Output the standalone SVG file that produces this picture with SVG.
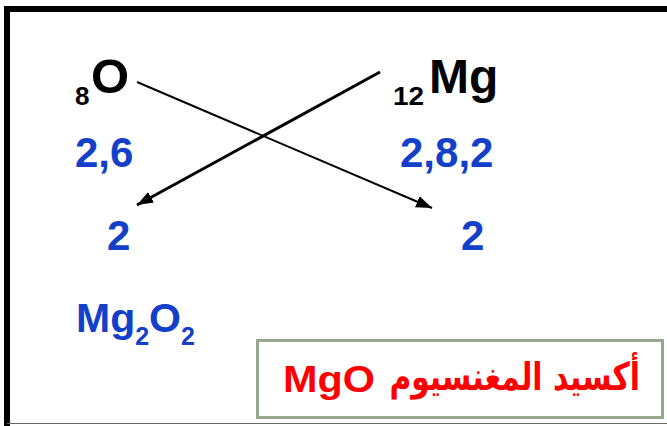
<svg xmlns="http://www.w3.org/2000/svg" width="667" height="426" viewBox="0 0 667 426">
<style>
.blk{font-family:"Liberation Sans",Arial,sans-serif;font-weight:bold;fill:#000}
.blu{font-family:"Liberation Sans",Arial,sans-serif;font-weight:bold;fill:#1240C8}
.red{font-weight:bold;fill:#FF0000}
.con{stroke:#000;fill:none}
</style>
<defs>
<marker id="ah" markerUnits="userSpaceOnUse" markerWidth="18" markerHeight="14" refX="16" refY="6" orient="auto">
<path d="M0,0 L16,6 L0,12 z" fill="#000"/>
</marker>
</defs>
<rect width="667" height="426" fill="#fff"/>
<g id="frame">
<path d="M7,426 L7,9 L667,9" fill="none" stroke="#000" stroke-width="6"/>
<line x1="7" y1="423.5" x2="667" y2="423.5" stroke="#666" stroke-width="1.2"/>
</g>
<g id="connectors">
<line class="con" x1="137" y1="82" x2="432" y2="208" stroke-width="2" marker-end="url(#ah)"/>
<line class="con" x1="380" y1="72" x2="137" y2="205" stroke-width="3" marker-end="url(#ah)"/>
</g>
<g id="oxygen">
<text class="blk" x="75" y="105" font-size="26">8</text>
<text class="blk" x="91" y="93" font-size="49">O</text>
</g>
<g id="magnesium">
<text class="blk" x="393" y="105" font-size="26" textLength="31" lengthAdjust="spacingAndGlyphs">12</text>
<text class="blk" x="429" y="93" font-size="48">Mg</text>
</g>
<g id="o-config"><text class="blu" x="75" y="167" font-size="42">2,6</text></g>
<g id="mg-config"><text class="blu" x="400" y="167" font-size="42">2,8,2</text></g>
<g id="o-val"><text class="blu" x="107" y="250" font-size="42">2</text></g>
<g id="mg-val"><text class="blu" x="461" y="250" font-size="42">2</text></g>
<g id="formula">
<text class="blu" x="76" y="332" font-size="41">Mg<tspan font-size="25" dy="13">2</tspan><tspan dy="-13">O</tspan><tspan font-size="25" dy="13">2</tspan></text>
</g>
<g id="result">
<rect x="257.5" y="340.5" width="405" height="77" fill="#fff" stroke="#98A88C" stroke-width="3"/>
<text class="red" x="283" y="392" font-size="37" font-family="Liberation Sans, Arial, sans-serif" textLength="92" lengthAdjust="spacingAndGlyphs">MgO</text>
<text class="red" transform="translate(640,390) scale(0.93,1.2)" x="0" y="0" font-size="32" font-family="DejaVu Sans, sans-serif" text-anchor="end">أكسيد المغنسيوم</text>
</g>
</svg>
